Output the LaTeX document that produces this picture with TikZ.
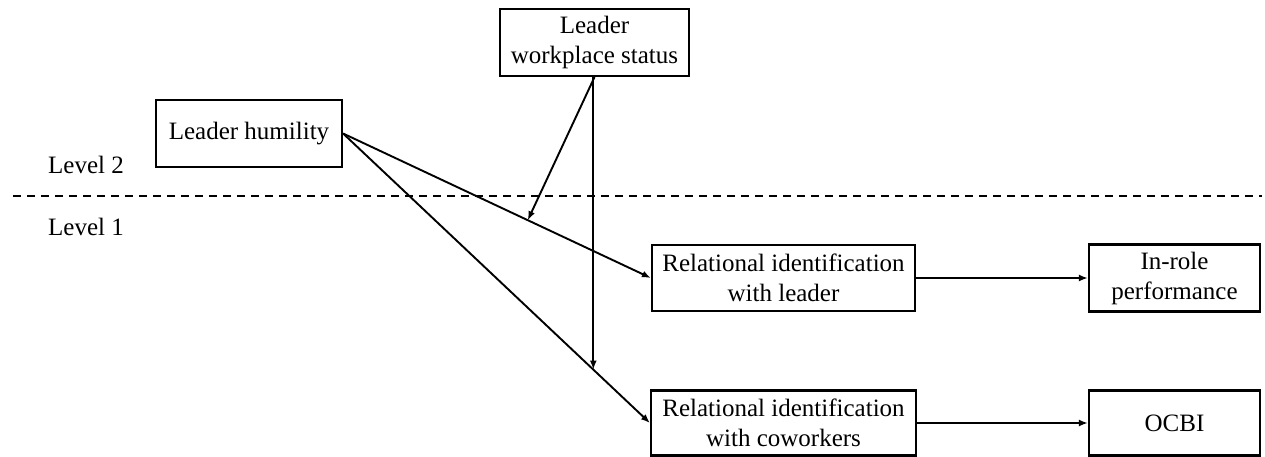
\documentclass[tikz,border=0pt]{standalone}
\usepackage{fontspec}
\setmainfont{Liberation Serif}
\usetikzlibrary{arrows.meta,calc}
\begin{document}
\begin{tikzpicture}[x=1pt,y=-1pt,
  box/.style={draw,line width=2.2pt,minimum height=67pt,inner sep=0pt,align=center,
    font=\fontsize{25}{30}\selectfont},
  lbl/.style={anchor=west,inner sep=0pt,font=\fontsize{25}{30}\selectfont},
  conn/.style={line width=1.9pt,-{Latex[length=9pt,width=7pt]}},
  sep/.style={line width=2pt,dash pattern=on 8pt off 6pt}]
\useasboundingbox (0,0) rectangle (1265,457);
\node[box,minimum width=189pt] (lws) at (594.5,42.5) {Leader\\workplace status};
\node[box,minimum width=186pt] (lh) at (249,133.5) {Leader humility};
\node[box,minimum width=263pt,minimum height=66pt] (ril) at (783.5,278) {Relational identification\\with leader};
\node[box,minimum width=171pt] (irp) at (1174.5,278) {In-role\\performance};
\node[box,minimum width=265pt,minimum height=65pt] (ric) at (783.5,423) {Relational identification\\with coworkers};
\node[box,minimum width=171pt,minimum height=65pt] (ocbi) at (1174.5,423) {OCBI};
\node[lbl] (l2) at (48,165) {Level 2};
\node[lbl] (l1) at (48,227) {Level 1};
\coordinate (dl) at (13,196);
\coordinate (dr) at (1262,196);
\draw[sep] (dl) -- (dr);
\draw[conn] (lh.east) -- (ril.west);
\draw[conn] (lh.east) -- (ric.west);
\draw[conn] (ril.east) -- (irp.west);
\draw[conn] (ric.east) -- (ocbi.west);
\coordinate (m1) at ($(lh.east)!0.6!(ril.west)$);
\coordinate (m2) at ($(lh.east)!0.8155!(ric.west)$);
\draw[conn] (lws.south) -- (m1);
\draw[conn] (lws.south) -- (m2 |- lws.south) -- (m2);
\end{tikzpicture}
\end{document}
